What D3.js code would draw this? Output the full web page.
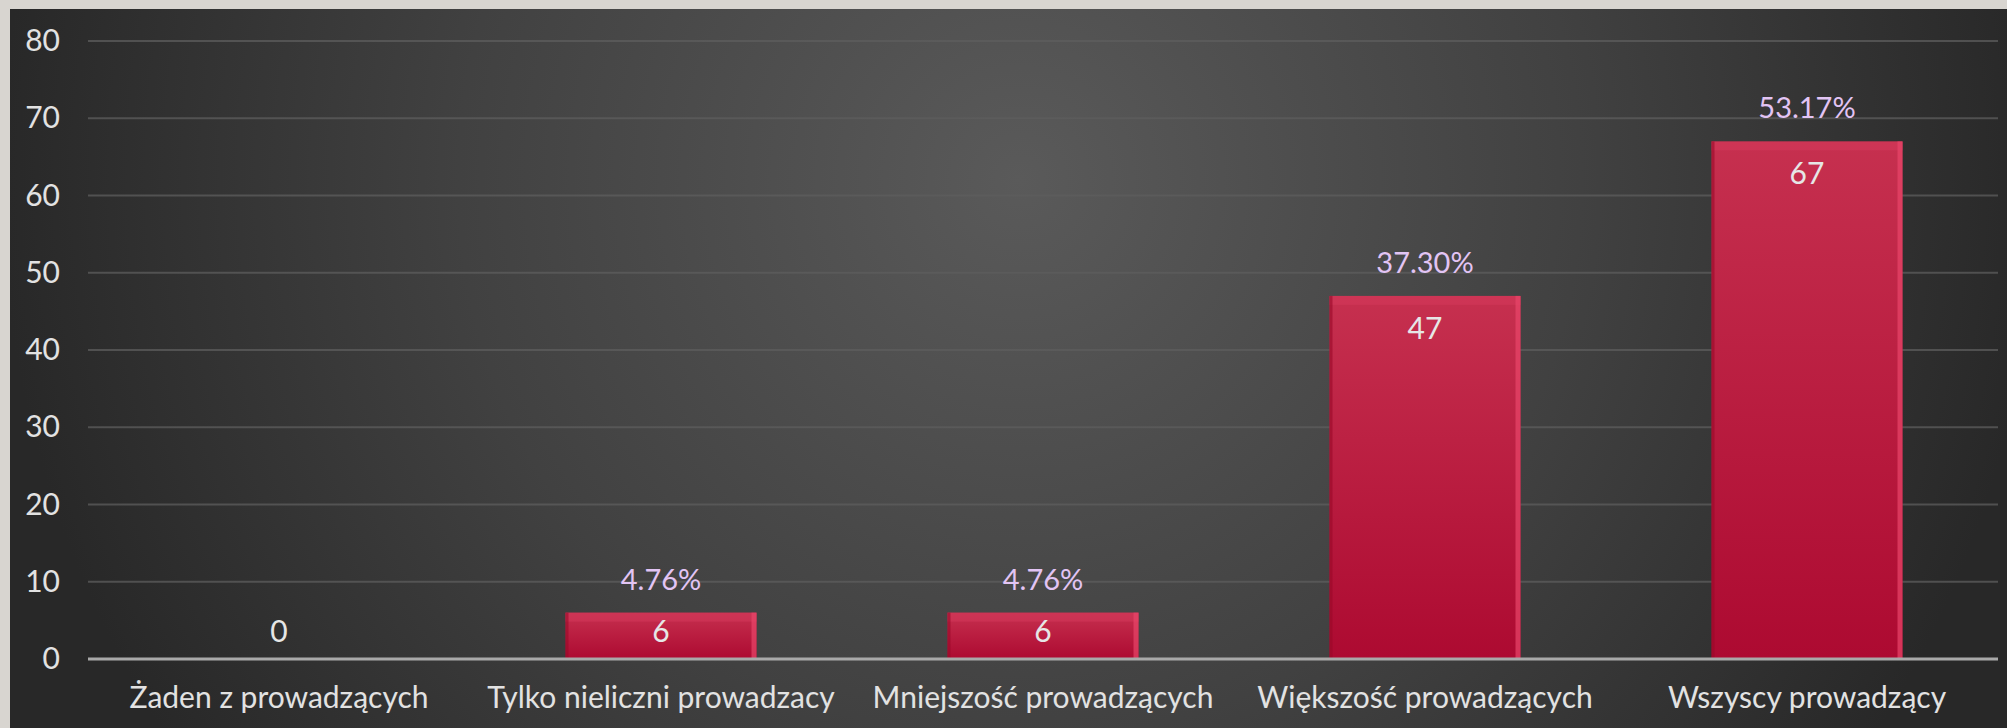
<!DOCTYPE html>
<html>
<head>
<meta charset="utf-8">
<script src="https://cdn.jsdelivr.net/npm/d3@7"></script>
<style>
  html, body { margin: 0; padding: 0; background: #d8d5d0; }
  svg { display: block; }
  text { font-family: "Lato", "Noto Sans", sans-serif; }
</style>
</head>
<body>
<svg id="chart" width="2007" height="728"></svg>
<script>
// chart data
var categories = ["Żaden z prowadzących", "Tylko nieliczni prowadzacy", "Mniejszość prowadzących", "Większość prowadzących", "Wszyscy prowadzący"];
var counts = [0, 6, 6, 47, 67];
var percents = [null, "4.76%", "4.76%", "37.30%", "53.17%"];
var yTicks = [0, 10, 20, 30, 40, 50, 60, 70, 80];

var rows = categories.map((c, i) => ({cat: c, value: counts[i], pct: percents[i]}));

var W = 2007, H = 728;
var svg = d3.select("#chart");
var defs = svg.append("defs");

// dark slide background, lighter in the middle
var bg = defs.append("radialGradient").attr("id", "bg")
    .attr("gradientUnits", "userSpaceOnUse")
    .attr("cx", 1020).attr("cy", 180).attr("r", 1020);
bg.append("stop").attr("offset", "0").attr("stop-color", "#5a5a5a");
bg.append("stop").attr("offset", "0.55").attr("stop-color", "#414141");
bg.append("stop").attr("offset", "1").attr("stop-color", "#282828");

var barGrad = defs.append("linearGradient").attr("id", "bar")
    .attr("x1", 0).attr("y1", 0).attr("x2", 0).attr("y2", 1);
barGrad.append("stop").attr("offset", "0").attr("stop-color", "#c6304f");
barGrad.append("stop").attr("offset", "1").attr("stop-color", "#ad0a31");

svg.append("rect").attr("x", 10).attr("y", 9)
    .attr("width", W - 10).attr("height", H - 9)
    .attr("fill", "url(#bg)");

var x = d3.scaleBand().domain(categories).range([88, 1998]).paddingInner(0.5).paddingOuter(0.25);
var y = d3.scaleLinear().domain([0, 80]).range([659, 41]);

// gridlines
svg.append("g")
  .selectAll("line").data(yTicks.slice(1)).join("line")
    .attr("x1", 88).attr("x2", 1998)
    .attr("y1", d => y(d)).attr("y2", d => y(d))
    .attr("stroke", "#5e5e5e").attr("stroke-opacity", 0.75).attr("stroke-width", 2);

// y axis labels
var yAxis = svg.append("g")
    .attr("transform", "translate(60,0)")
    .call(d3.axisLeft(y).tickValues(yTicks).tickSize(0).tickPadding(0));
yAxis.select(".domain").remove();
yAxis.selectAll("text")
    .attr("fill", "#e2e2e2").attr("font-size", 30)
    .attr("font-family", "Lato, 'Noto Sans', sans-serif");

// bars
var bars = svg.append("g").selectAll("g").data(rows.filter(d => d.value > 0)).join("g");
bars.append("rect")
    .attr("x", d => x(d.cat))
    .attr("y", d => y(d.value))
    .attr("width", x.bandwidth())
    .attr("height", d => y(0) - y(d.value))
    .attr("fill", "url(#bar)");
// bevel highlights
bars.append("rect")
    .attr("x", d => x(d.cat))
    .attr("y", d => y(d.value))
    .attr("width", x.bandwidth())
    .attr("height", 9)
    .attr("fill", "#d63a5c").attr("opacity", 0.5);
bars.append("rect")
    .attr("x", d => x(d.cat) + x.bandwidth() - 5)
    .attr("y", d => y(d.value))
    .attr("width", 5)
    .attr("height", d => y(0) - y(d.value))
    .attr("fill", "#e8466a").attr("opacity", 0.7);
bars.append("rect")
    .attr("x", d => x(d.cat))
    .attr("y", d => y(d.value))
    .attr("width", 3)
    .attr("height", d => y(0) - y(d.value))
    .attr("fill", "#9a0828").attr("opacity", 0.6);

// zero axis line
svg.append("line")
    .attr("x1", 88).attr("x2", 1998)
    .attr("y1", y(0)).attr("y2", y(0))
    .attr("stroke", "#a9a9a9").attr("stroke-width", 3);

// value labels
svg.append("g").selectAll("text").data(rows).join("text")
    .attr("x", d => x(d.cat) + x.bandwidth() / 2)
    .attr("y", d => Math.min(y(d.value) + 43, y(0) - 17))
    .attr("text-anchor", "middle")
    .attr("font-size", 30).attr("fill", "#e6e6e6")
    .text(d => d.value);

// percentage labels
svg.append("g").selectAll("text").data(rows.filter(d => d.pct)).join("text")
    .attr("x", d => x(d.cat) + x.bandwidth() / 2)
    .attr("y", d => y(d.value) - 23)
    .attr("text-anchor", "middle")
    .attr("font-size", 29).attr("fill", "#e2c4f4")
    .text(d => d.pct);

// category labels
svg.append("g").selectAll("text").data(categories).join("text")
    .attr("x", d => x(d) + x.bandwidth() / 2)
    .attr("y", 708)
    .attr("text-anchor", "middle")
    .attr("font-size", 30).attr("fill", "#e2e2e2")
    .text(d => d);
</script>
</body>
</html>
